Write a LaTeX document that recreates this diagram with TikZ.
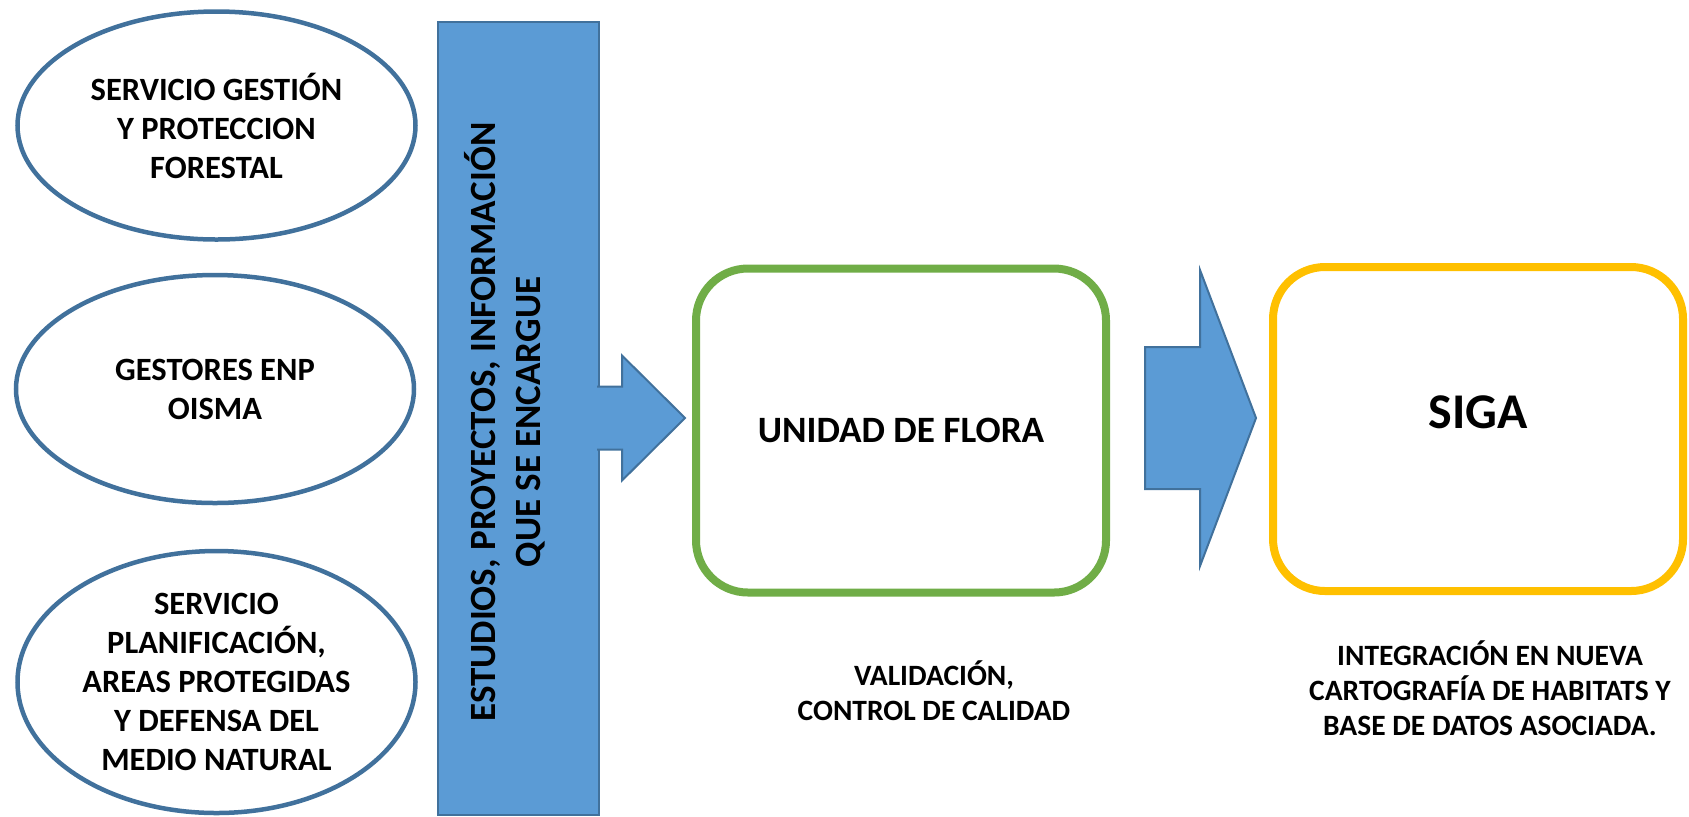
\documentclass[tikz,border=0pt]{standalone}
\usepackage{fontspec}
\setmainfont{Carlito}
\usetikzlibrary{shapes.geometric,calc}

\definecolor{ovalline}{HTML}{41719C}
\definecolor{boxblue}{HTML}{5B9BD5}
\definecolor{floragreen}{HTML}{70AD47}
\definecolor{sigayellow}{HTML}{FFC000}

\tikzset{
  oval/.style={ellipse, draw=ovalline, line width=2.25pt, fill=white,
    inner sep=0pt, inner ysep=-3pt, minimum width=199pt, align=center,
    font=\fontsize{16.25}{19.5}\selectfont\bfseries},
  estbox/.style={rectangle, draw=ovalline, line width=1pt, fill=boxblue,
    minimum width=80.5pt, minimum height=396.5pt},
  esttext/.style={rotate=90, align=center, inner sep=0pt, anchor=base,
    font=\fontsize{18.5}{22.5}\selectfont\bfseries},
  roundbox/.style={rectangle, rounded corners=26pt, line width=4pt, fill=white,
    minimum width=205pt, minimum height=162pt, inner sep=0pt},
  note/.style={align=center, inner sep=0pt, anchor=base,
    font=\fontsize{14.75}{17.4}\selectfont\bfseries},
  arrowstyle/.style={fill=boxblue, draw=ovalline, line width=1pt, line join=miter}
}

% block arrow: tail, tip, shaft half, head half, head length
\newcommand{\flecha}[6][]{%
  \filldraw[arrowstyle] ($(#2)+(0,-#4)$) -- ($(#3)+(-#6,-#4)$) -- ($(#3)+(-#6,-#5)$)
    -- (#3) -- ($(#3)+(-#6,#5)$) -- ($(#3)+(-#6,#4)$) -- ($(#2)+(0,#4)$) #1;
}

\begin{document}
\begin{tikzpicture}[x=0.5pt,y=-0.5pt]
  \useasboundingbox (0,0) rectangle (1689,816);

  % sources
  \node[oval, minimum height=114pt] (forestal) at (216.5,125.5)
    {SERVICIO GESTIÓN\\Y PROTECCION\\FORESTAL};
  \node[oval, minimum height=114pt] (gestores) at (215,389)
    {GESTORES ENP\\OISMA};
  \node[oval, minimum height=131pt] (planif) at (216.5,682)
    {SERVICIO\\PLANIFICACIÓN,\\AREAS PROTEGIDAS\\Y DEFENSA DEL\\MEDIO NATURAL};

  % studies bar
  \node[estbox] (estudios) at (518.5,418.5) {};
  \node[esttext] (estudiostxt) at (540,422)
    {ESTUDIOS, PROYECTOS, INFORMACIÓN\\QUE SE ENCARGUE};

  % boxes
  \node[roundbox, draw=floragreen, font=\fontsize{18.6}{22}\selectfont\bfseries]
    (flora) at (901,430.5) {UNIDAD DE FLORA};
  \node[roundbox, draw=sigayellow, text depth=16.5pt,
    font=\fontsize{25}{30}\selectfont\bfseries]
    (siga) at (1478,429) {SIGA};

  % arrows
  \coordinate (tailA) at (597,418);
  \coordinate (tipA) at ($(flora.west)+(-7,-12.5)$);
  \flecha{tailA}{tipA}{31.5}{62.5}{63}
  \coordinate (tailB) at (1145,418);
  \coordinate (tipB) at ($(siga.west)+(-13,-11)$);
  \flecha[-- cycle]{tailB}{tipB}{71}{148}{56}

  % notes
  \node[note] (validacion) at (934,720) {VALIDACIÓN,\\CONTROL DE CALIDAD};
  \node[note] (integracion) at (1490,735)
    {INTEGRACIÓN EN NUEVA\\CARTOGRAFÍA DE HABITATS Y\\BASE DE DATOS ASOCIADA.};
\end{tikzpicture}
\end{document}
